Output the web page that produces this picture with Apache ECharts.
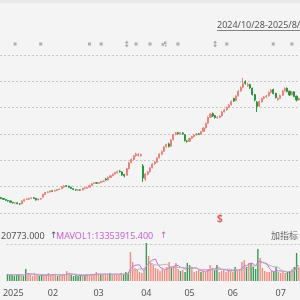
<!DOCTYPE html>
<html>
<head>
<meta charset="utf-8">
<script src="https://cdn.jsdelivr.net/npm/echarts@6/dist/echarts.min.js"></script>
<style>
html, body { margin: 0; padding: 0; background: #f4f4f4; }
#main { width: 300px; height: 300px; }
</style>
</head>
<body>
<div id="main"></div>
<script>
// K线 数据 (HKD), 2024/12/31 起
var openP = [
  103.5, 102.0, 100.5, 99.0, 98.4, 96.0, 95.0, 95.5, 93.8, 93.9,
  98.0, 100.5, 101.0, 102.5, 103.3, 102.2, 99.9, 101.1, 104.0, 108.0,
  111.5, 112.0, 113.8, 113.3, 114.0, 115.6, 116.8, 119.5, 121.6, 120.9,
  119.2, 117.0, 115.5, 114.5, 115.3, 114.9, 117.8, 117.6, 119.2, 122.0,
  124.8, 126.0, 125.0, 126.4, 127.5, 131.8, 130.3, 134.0, 136.7, 139.2,
  141.0, 143.6, 142.4, 138.5, 137.5, 147.0, 156.8, 161.0, 167.2, 167.5,
  166.8, 151.4, 131.6, 138.8, 142.6, 148.8, 154.8, 157.0, 163.9, 169.2,
  173.8, 180.5, 185.0, 181.4, 191.5, 199.6, 202.0, 200.2, 201.6, 199.0,
  189.4, 188.9, 193.5, 196.0, 198.8, 200.3, 199.8, 203.9, 209.4, 216.5,
  225.5, 231.0, 227.9, 224.6, 225.0, 227.4, 233.8, 236.8, 240.6, 244.5,
  254.0, 250.6, 258.0, 265.4, 270.9, 279.5, 273.4, 275.0, 269.5, 259.8,
  248.5, 242.4, 249.0, 254.3, 256.8, 258.0, 263.4, 267.5, 261.8, 252.0,
  254.2, 258.9, 265.7, 269.6, 265.0, 259.6, 264.2, 257.4, 251.8
];
var closeP = [
  102.2, 100.7, 99.3, 98.2, 96.4, 95.3, 95.2, 94.0, 93.7, 98.2,
  100.7, 101.3, 102.3, 102.8, 102.0, 99.7, 101.3, 102.0, 108.1, 111.1,
  111.9, 113.4, 113.1, 114.2, 115.4, 116.5, 119.8, 121.0, 120.7, 119.0,
  117.2, 115.7, 114.9, 115.1, 114.7, 117.5, 118.0, 119.0, 121.8, 124.5,
  125.6, 125.3, 126.2, 127.7, 128.6, 130.1, 134.1, 136.5, 138.9, 141.4,
  143.2, 142.6, 137.7, 136.5, 147.4, 156.3, 161.4, 166.7, 169.6, 168.7,
  168.9, 133.2, 139.2, 142.3, 148.4, 154.4, 157.5, 163.5, 169.6, 173.4,
  180.3, 184.1, 181.0, 190.9, 199.2, 201.5, 200.5, 201.8, 200.0, 190.1,
  188.6, 193.2, 196.2, 198.5, 200.0, 199.6, 203.6, 209.1, 216.0, 225.1,
  230.4, 227.3, 225.1, 225.4, 227.0, 233.4, 236.5, 240.3, 244.1, 249.4,
  250.2, 257.7, 265.0, 270.6, 276.7, 276.9, 275.2, 269.9, 260.0, 251.6,
  241.8, 249.4, 253.9, 256.2, 257.7, 263.0, 266.8, 261.5, 255.4, 253.8,
  258.5, 265.3, 269.1, 264.6, 259.2, 263.8, 257.0, 251.6, 253.9
];
var lowP = [
  101.0, 99.8, 98.6, 97.2, 95.8, 94.6, 94.1, 93.2, 92.4, 93.5,
  97.4, 99.6, 100.4, 101.6, 101.2, 99.0, 99.2, 100.3, 103.5, 107.2,
  110.3, 111.2, 112.2, 112.6, 113.5, 114.8, 116.0, 118.7, 119.5, 118.3,
  116.4, 114.8, 113.6, 113.8, 113.9, 114.3, 116.7, 117.0, 118.8, 121.3,
  123.9, 124.3, 124.4, 125.6, 126.9, 129.0, 129.6, 133.2, 135.8, 138.5,
  140.2, 141.3, 136.6, 134.2, 137.0, 146.5, 155.5, 160.2, 165.4, 166.0,
  165.8, 127.1, 128.6, 137.2, 141.5, 147.7, 153.2, 156.3, 162.8, 168.0,
  172.9, 179.2, 179.6, 180.8, 190.3, 198.2, 199.3, 199.0, 198.9, 188.6,
  186.9, 188.1, 192.4, 195.1, 197.5, 198.4, 199.0, 203.0, 208.5, 215.6,
  224.4, 225.9, 223.4, 223.2, 224.1, 226.5, 232.6, 235.4, 239.5, 243.3,
  248.8, 249.8, 257.0, 264.3, 269.5, 274.8, 271.9, 268.4, 258.6, 249.6,
  233.4, 241.2, 247.6, 252.6, 254.9, 257.0, 262.0, 260.4, 254.0, 250.6,
  253.0, 257.8, 264.5, 263.2, 257.9, 258.5, 255.8, 249.6, 250.5
];
var highP = [
  104.6, 102.8, 101.2, 99.9, 98.9, 96.9, 96.3, 96.0, 94.9, 99.0,
  101.5, 102.3, 103.2, 103.8, 104.0, 102.6, 102.0, 102.9, 109.3, 112.0,
  113.0, 114.3, 114.6, 115.2, 116.3, 117.4, 121.0, 122.6, 122.4, 121.5,
  119.8, 117.8, 116.3, 116.0, 116.0, 118.3, 119.0, 119.9, 122.7, 125.4,
  126.8, 126.9, 127.2, 128.8, 129.8, 132.9, 135.2, 137.6, 140.0, 142.5,
  144.6, 145.0, 143.0, 139.3, 148.6, 157.8, 163.0, 168.3, 171.5, 171.0,
  170.2, 154.4, 140.5, 143.8, 149.6, 155.6, 159.0, 164.6, 170.8, 174.9,
  181.6, 185.5, 186.8, 192.3, 200.6, 203.0, 203.3, 203.1, 202.9, 199.8,
  190.8, 194.4, 197.3, 199.6, 201.2, 201.4, 204.8, 210.4, 217.4, 226.8,
  232.0, 232.6, 229.0, 226.9, 228.4, 234.8, 238.0, 241.7, 245.6, 251.0,
  255.2, 259.0, 266.5, 272.4, 285.1, 281.6, 277.9, 276.3, 270.4, 260.9,
  250.0, 250.8, 255.2, 257.8, 259.4, 264.6, 268.3, 268.9, 262.6, 255.4,
  259.9, 266.9, 270.8, 270.5, 265.9, 265.0, 265.1, 258.3, 255.3
];
// 成交量 (百万股)
var volume = [
  7, 6, 7, 5, 6, 7, 6, 5, 12, 7,
  6, 5, 6, 7, 5, 6, 5, 6, 8, 6,
  7, 6, 5, 6, 7, 6, 10, 7, 6, 5,
  6, 5, 6, 5, 6, 7, 6, 7, 6, 9,
  7, 6, 7, 6, 7, 8, 6, 7, 6, 7,
  8, 6, 9, 8, 29, 19, 13, 11, 9, 8,
  10, 38, 25, 18, 16, 13, 12, 10, 12, 11,
  14, 19, 13, 15, 18, 12, 10, 11, 9, 18,
  16, 13, 9, 10, 11, 9, 10, 9, 11, 16,
  13, 11, 16, 9, 10, 12, 9, 11, 10, 9,
  14, 10, 12, 19, 21, 14, 18, 18, 14, 12,
  32, 23, 13, 10, 9, 9, 10, 9, 14, 9,
  8, 9, 8, 9, 10, 12, 14, 28, 14
];
var mavol1 = [
  6.2, 6.3, 6.4, 6.2, 6.2, 6.2, 6.2, 5.8, 7.2, 7.4,
  7.2, 7.0, 7.2, 6.2, 5.8, 5.8, 5.8, 5.8, 6.0, 6.2,
  6.4, 6.6, 6.4, 6.0, 6.2, 6.0, 6.8, 7.2, 7.2, 6.8,
  6.8, 5.8, 5.6, 5.4, 5.6, 5.8, 6.0, 6.2, 6.4, 7.0,
  7.0, 7.0, 7.0, 7.0, 6.6, 6.8, 6.8, 6.8, 6.8, 6.8,
  6.8, 6.8, 7.2, 7.6, 12.0, 14.2, 15.6, 16.0, 16.2, 12.0,
  10.2, 15.2, 18.0, 19.8, 21.4, 22.0, 16.8, 13.8, 12.6, 11.6,
  11.8, 13.2, 13.8, 14.4, 15.8, 15.4, 13.6, 13.2, 12.0, 12.0,
  12.8, 13.4, 13.0, 13.2, 11.8, 10.4, 9.8, 9.8, 10.0, 11.0,
  11.8, 12.0, 13.4, 13.0, 11.8, 11.6, 11.2, 10.2, 10.4, 10.2,
  10.6, 10.8, 11.0, 12.8, 15.2, 15.2, 16.8, 18.0, 17.0, 15.2,
  18.8, 19.8, 18.8, 18.0, 17.4, 12.8, 10.2, 9.4, 10.2, 10.2,
  10.0, 9.8, 9.6, 8.6, 8.8, 9.6, 10.6, 14.6, 15.6
];
var mavol2 = [
  6.4, 6.4, 6.4, 6.3, 6.3, 6.2, 6.3, 6.0, 6.7, 6.8,
  6.7, 6.6, 6.5, 6.7, 6.6, 6.5, 6.4, 6.5, 6.1, 6.0,
  6.1, 6.2, 6.1, 6.0, 6.2, 6.2, 6.7, 6.8, 6.6, 6.5,
  6.4, 6.3, 6.4, 6.3, 6.2, 6.3, 5.9, 5.9, 5.9, 6.3,
  6.4, 6.5, 6.6, 6.7, 6.8, 6.9, 6.9, 6.9, 6.9, 6.7,
  6.8, 6.8, 7.0, 7.2, 9.4, 10.5, 11.2, 11.6, 11.9, 12.0,
  12.2, 15.4, 17.0, 18.0, 16.7, 16.1, 16.0, 15.9, 16.2, 16.5,
  16.9, 15.0, 13.8, 13.5, 13.7, 13.6, 13.4, 13.5, 13.2, 13.9,
  14.1, 13.5, 13.1, 12.6, 11.9, 11.6, 11.6, 11.4, 11.6, 11.4,
  11.1, 10.9, 11.6, 11.5, 11.4, 11.7, 11.6, 11.8, 11.7, 11.0,
  11.1, 11.0, 10.6, 11.6, 12.7, 12.9, 13.8, 14.5, 14.9, 15.2,
  17.0, 18.3, 18.4, 17.5, 16.3, 15.8, 15.0, 14.1, 14.1, 13.8,
  11.4, 10.0, 9.5, 9.4, 9.5, 9.8, 10.2, 12.1, 12.1
];
// 事件标记 (K线序号)
var eventIdx = [6, 17, 38, 43, 58, 64, 76, 97, 117, 125];
var arrowIdx = [54, 92];
var multiIdx = [70];
var dividendIdx = [94];
// 港股休市日
var holidays = ['2025-01-01', '2025-01-29', '2025-01-30', '2025-01-31', '2025-04-04',
  '2025-04-18', '2025-04-21', '2025-05-01', '2025-05-05', '2025-05-30', '2025-07-01'];

function pad(n) { return n < 10 ? '0' + n : '' + n; }

// 交易日
var dates = [];
var t = Date.UTC(2024, 11, 31);
while (dates.length < openP.length) {
    var d = new Date(t);
    var s = d.getUTCFullYear() + '-' + pad(d.getUTCMonth() + 1) + '-' + pad(d.getUTCDate());
    if (d.getUTCDay() != 0 && d.getUTCDay() != 6 && holidays.indexOf(s) < 0) dates.push(s);
    t += 86400000;
}

var kData = [], volData = [];
for (var i = 0; i < dates.length; i++) {
    kData.push([openP[i], closeP[i], lowP[i], highP[i]]);
    var up = closeP[i] >= openP[i];
    volData.push({ value: volume[i], itemStyle: { color: up ? '#ee8c80' : '#3a9a55' } });
}

function monthStart(idx) {
    return idx > 0 && dates[idx].slice(0, 7) != dates[idx - 1].slice(0, 7);
}

var FONT = '"Noto Sans", "DejaVu Sans", sans-serif';
var dash = [2, 2];

function hiddenX(gi) {
    return { type: 'category', gridIndex: gi, data: dates, show: false, boundaryGap: true };
}
function hiddenY(gi) {
    return { type: 'value', gridIndex: gi, min: 0, max: 1, show: false, splitLine: { show: false } };
}
function pts(arr) {
    return arr.map(function (k) { return [k, 0.5]; });
}

var chart = echarts.init(document.getElementById('main'));
chart.setOption({
    backgroundColor: '#f4f4f4',
    animation: false,
    textStyle: { fontFamily: FONT },
    grid: [
        { left: 0, right: 0, top: 55, height: 158 },
        { left: 0, right: 0, top: 244, height: 37 },
        { left: 0, right: 0, top: 41, height: 6 },
        { left: 0, right: 0, top: 216, height: 6 }
    ],
    xAxis: [
        hiddenX(0),
        {
            type: 'category', gridIndex: 1, data: dates, boundaryGap: true,
            axisLine: { show: false }, axisTick: { show: false },
            splitLine: { show: false },
            axisLabel: {
                color: '#555', fontSize: 9, fontFamily: FONT, margin: 8,
                interval: function (idx) { return monthStart(idx); },
                formatter: function (v) {
                    var m = v.slice(5, 7);
                    return m == '01' ? '{y|' + v.slice(0, 4) + '}' : m;
                },
                rich: { y: { fontSize: 9, color: '#555', fontFamily: FONT, padding: [0, 0, 0, 7] } }
            }
        },
        hiddenX(2),
        hiddenX(3)
    ],
    yAxis: [
        {
            type: 'value', gridIndex: 0, min: 80, max: 320, interval: 40,
            axisLabel: { show: false }, axisLine: { show: false }, axisTick: { show: false },
            splitLine: { lineStyle: { color: '#c6c6c6', type: dash, width: 1 } }
        },
        {
            type: 'value', gridIndex: 1, min: 0, max: 37, interval: 37,
            axisLabel: { show: false }, axisLine: { show: false }, axisTick: { show: false },
            splitLine: { lineStyle: { color: ['rgba(0,0,0,0)', '#c6c6c6'], type: dash, width: 1 } }
        },
        hiddenY(2),
        hiddenY(3)
    ],
    series: [
        {
            type: 'candlestick', xAxisIndex: 0, yAxisIndex: 0, data: kData,
            barWidth: '68%',
            itemStyle: { color: '#e9847a', color0: '#26973f', borderColor: '#e9847a', borderColor0: '#26973f', borderWidth: 1 }
        },
        {
            type: 'bar', xAxisIndex: 1, yAxisIndex: 1, data: volData,
            barWidth: '62%', clip: false
        },
        {
            type: 'line', xAxisIndex: 1, yAxisIndex: 1, data: mavol1,
            symbol: 'none', lineStyle: { color: '#cf6fd4', width: 1 }
        },
        {
            type: 'line', xAxisIndex: 1, yAxisIndex: 1, data: mavol2,
            symbol: 'none', lineStyle: { color: '#b4b4b4', width: 1 }
        },
        {
            type: 'scatter', xAxisIndex: 2, yAxisIndex: 2, data: pts(eventIdx),
            symbol: 'rect', symbolSize: 3, itemStyle: { color: '#9e9e9e' }
        },
        {
            type: 'scatter', xAxisIndex: 2, yAxisIndex: 2, data: pts(arrowIdx),
            symbol: 'path://M2,0L4,3L0,3Z M0,5L4,5L2,8Z M1.5,3L2.5,3L2.5,5L1.5,5Z',
            symbolSize: [4, 7], itemStyle: { color: '#9a9a9a' }
        },
        {
            type: 'scatter', xAxisIndex: 2, yAxisIndex: 2, data: pts(multiIdx),
            symbol: 'path://M0,2L3,2L3,5L0,5Z M3,0L6,0L6,3L3,3Z M4,4L6,4L6,6L4,6Z',
            symbolSize: [5, 5], itemStyle: { color: '#9a9a9a' }
        },
        {
            type: 'scatter', xAxisIndex: 3, yAxisIndex: 3, data: pts(dividendIdx),
            symbol: 'circle', symbolSize: 8, itemStyle: { color: 'rgba(0,0,0,0)' },
            label: { show: true, position: 'inside', formatter: '$', color: '#d3372f', fontSize: 10, fontWeight: 'bold', fontFamily: FONT }
        }
    ],
    graphic: [
        { type: 'rect', left: 0, top: 0, shape: { width: 300, height: 3 }, style: { fill: '#e8e8e8' }, silent: true },
        { type: 'text', x: 217, y: 25, style: { text: '2024/10/28-2025/8/15', fill: '#555', font: '9px ' + FONT, textVerticalAlign: 'middle' } },
        { type: 'line', shape: { x1: 217, y1: 30.5, x2: 300, y2: 30.5 }, style: { stroke: '#666', lineWidth: 0.8 } },
        { type: 'text', x: 1, y: 236, style: { text: '20773.000', fill: '#555', font: '9px ' + FONT, textVerticalAlign: 'middle' } },
        { type: 'text', x: 50, y: 235, style: { text: '↑', fill: '#555', font: '9px ' + FONT, textVerticalAlign: 'middle' } },
        { type: 'text', x: 56, y: 236, style: { text: 'MAVOL1:13353915.400', fill: '#c762cf', font: '9px ' + FONT, textVerticalAlign: 'middle' } },
        { type: 'text', x: 160, y: 235, style: { text: '↑', fill: '#c762cf', font: '9px ' + FONT, textVerticalAlign: 'middle' } },
        { type: 'text', x: 298, y: 236, style: { text: '加指标', fill: '#666', font: '9px "Noto Sans CJK SC", sans-serif', textAlign: 'right', textVerticalAlign: 'middle' } }
    ]
});
</script>
</body>
</html>
